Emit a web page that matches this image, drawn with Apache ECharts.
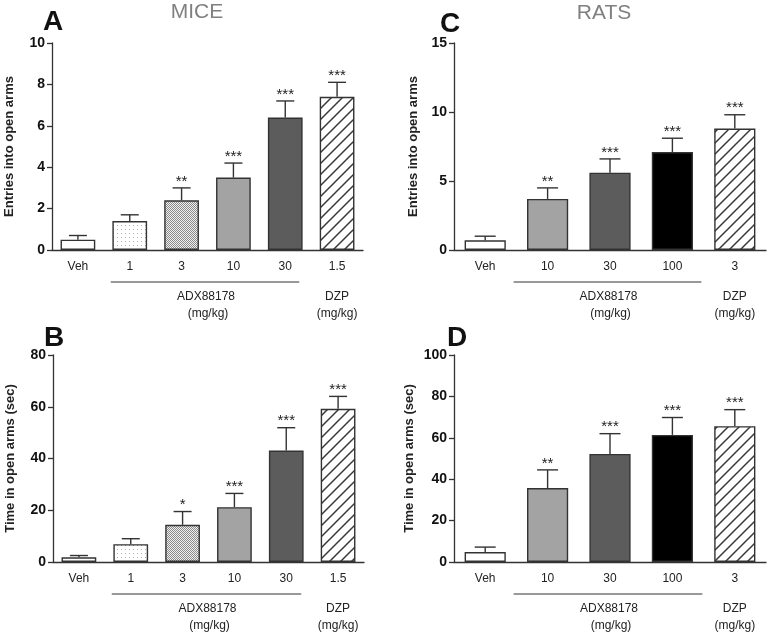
<!DOCTYPE html>
<html><head><meta charset="utf-8">
<script src="https://cdn.jsdelivr.net/npm/echarts/dist/echarts.min.js"></script>
<style>html,body{margin:0;padding:0;background:#fff}#c{width:768px;height:634px}</style>
</head><body><div id="c"></div>
<script>
// ---- data ----
const miceCats = ['Veh', '1', '3', '10', '30', '1.5'];
const miceEntries = [0.5, 1.4, 2.4, 3.5, 6.4, 7.4];
const miceEntriesErr = [0.2, 0.3, 0.6, 0.7, 0.8, 0.7];
const miceEntriesSig = ['', '', '**', '***', '***', '***'];
const miceTime = [1.8, 6.9, 14.4, 21.2, 43.1, 59.2];
const miceTimeErr = [0.7, 2.1, 5.1, 5.3, 8.8, 4.8];
const miceTimeSig = ['', '', '*', '***', '***', '***'];

const ratCats = ['Veh', '10', '30', '100', '3'];
const ratEntries = [0.7, 3.7, 5.6, 7.1, 8.8];
const ratEntriesErr = [0.3, 0.8, 1.0, 1.0, 1.0];
const ratEntriesSig = ['', '**', '***', '***', '***'];
const ratTime = [4.8, 35.7, 52.2, 61.4, 65.6];
const ratTimeErr = [2.4, 8.8, 9.8, 8.4, 8.0];
const ratTimeSig = ['', '**', '***', '***', '***'];

const panelLetters = ['A', 'B', 'C', 'D'];
const speciesTitles = ['MICE', 'RATS'];
const yNames = ['Entries into open arms', 'Time in open arms (sec)'];
const groupNames = ['ADX88178', 'DZP'];
const unitLabel = '(mg/kg)';

// ---- styles ----
const FONT = '"Liberation Sans", Arial, sans-serif';
function tile(kind) {
  const c = document.createElement('canvas');
  const g = c.getContext('2d');
  if (kind === 'dots') {
    c.width = 4; c.height = 4;
    g.fillStyle = '#fff'; g.fillRect(0, 0, 4, 4);
    g.fillStyle = '#b0b0b0'; g.fillRect(1, 1, 1, 1);
  } else if (kind === 'checker') {
    c.width = 2; c.height = 2;
    g.fillStyle = '#f0f0f0'; g.fillRect(0, 0, 2, 2);
    g.fillStyle = '#8a8a8a'; g.fillRect(0, 0, 1, 1); g.fillRect(1, 1, 1, 1);
  } else {
    const s = 11;
    c.width = s; c.height = s;
    g.fillStyle = '#fff'; g.fillRect(0, 0, s, s);
    g.strokeStyle = '#3a3a3a'; g.lineWidth = 1.5;
    g.beginPath();
    g.moveTo(-1, 1); g.lineTo(1, -1);
    g.moveTo(0, s); g.lineTo(s, 0);
    g.moveTo(s - 1, s + 1); g.lineTo(s + 1, s - 1);
    g.stroke();
  }
  return { image: c, repeat: 'repeat' };
}
const DOTS = tile('dots'), CHECK = tile('checker'), HATCH = tile('hatch');
const miceFills = ['#ffffff', DOTS, CHECK, '#a3a3a3', '#5c5c5c', HATCH];
const ratFills = ['#ffffff', '#a3a3a3', '#5c5c5c', '#000000', HATCH];

const panels = [
  { grid: { left: 52, top: 43, width: 311, height: 207 }, cats: miceCats, vals: miceEntries, errs: miceEntriesErr, sig: miceEntriesSig, fills: miceFills, max: 10, interval: 2, name: yNames[0], gap: 36, cap: 18, gl: 19, gr: 14, adx: [1, 4], dzp: 5, gapPct: '33%' },
  { grid: { left: 53, top: 355, width: 311, height: 207 }, cats: miceCats, vals: miceTime, errs: miceTimeErr, sig: miceTimeSig, fills: miceFills, max: 80, interval: 20, name: yNames[1], gap: 36, cap: 18, gl: 19, gr: 15, adx: [1, 4], dzp: 5, gapPct: '33%' },
  { grid: { left: 454, top: 43, width: 312, height: 207 }, cats: ratCats, vals: ratEntries, errs: ratEntriesErr, sig: ratEntriesSig, fills: ratFills, max: 15, interval: 5, name: yNames[0], gap: 34, cap: 21, gl: 34, gr: 29, adx: [1, 3], dzp: 4, gapPct: '34%' },
  { grid: { left: 454, top: 355, width: 312, height: 207 }, cats: ratCats, vals: ratTime, errs: ratTimeErr, sig: ratTimeSig, fills: ratFills, max: 100, interval: 20, name: yNames[1], gap: 38, cap: 21, gl: 34, gr: 30, adx: [1, 3], dzp: 4, gapPct: '34%' }
];

const AX = '#333';
const option = {
  animation: false,
  backgroundColor: '#fff',
  textStyle: { fontFamily: FONT },
  grid: panels.map(p => p.grid),
  xAxis: panels.map((p, i) => ({
    type: 'category', gridIndex: i, data: p.cats,
    axisLine: { lineStyle: { color: AX, width: 1.3 } },
    axisTick: { alignWithLabel: true, length: 5, lineStyle: { color: AX, width: 1.3 } },
    axisLabel: { color: '#222', fontSize: 12, margin: 11, fontFamily: FONT, interval: 0 }
  })),
  yAxis: panels.map((p, i) => ({
    type: 'value', gridIndex: i, min: 0, max: p.max, interval: p.interval,
    name: p.name, nameLocation: 'middle', nameGap: p.gap,
    nameTextStyle: { color: '#222', fontSize: 13, fontWeight: 'bold', fontFamily: FONT },
    axisLine: { show: true, lineStyle: { color: AX, width: 1.3 } },
    axisTick: { show: true, length: 5, lineStyle: { color: AX, width: 1.3 } },
    axisLabel: { color: '#111', fontSize: 14, fontWeight: 'bold', margin: 7, fontFamily: FONT },
    splitLine: { show: false }
  })),
  graphic: [
    { type: 'text', left: 43, top: 8, style: { text: panelLetters[0], font: 'bold 28px ' + FONT, fill: '#111' } },
    { type: 'text', left: 44, top: 324, style: { text: panelLetters[1], font: 'bold 28px ' + FONT, fill: '#111' } },
    { type: 'text', left: 440, top: 10, style: { text: panelLetters[2], font: 'bold 28px ' + FONT, fill: '#111' } },
    { type: 'text', left: 447, top: 324, style: { text: panelLetters[3], font: 'bold 28px ' + FONT, fill: '#111' } },
    { type: 'text', x: 197, y: 12, style: { text: speciesTitles[0], font: '21px ' + FONT, fill: '#808080', align: 'center', verticalAlign: 'middle' } },
    { type: 'text', x: 604, y: 13, style: { text: speciesTitles[1], font: '21px ' + FONT, fill: '#808080', align: 'center', verticalAlign: 'middle' } }
  ],
  series: []
};

panels.forEach((p, i) => {
  option.series.push({
    type: 'bar', xAxisIndex: i, yAxisIndex: i, barCategoryGap: p.gapPct,
    data: p.vals.map((v, k) => ({ value: v, itemStyle: { color: p.fills[k] } })),
    itemStyle: { borderColor: '#333', borderWidth: 1.4 },
    z: 2
  });
  option.series.push({
    type: 'custom', xAxisIndex: i, yAxisIndex: i, z: 3, clip: false,
    data: p.vals.map((v, k) => [k, v, p.errs[k]]),
    renderItem: (params, api) => {
      const k = api.value(0), v = api.value(1), e = api.value(2);
      const a = api.coord([k, v]), b = api.coord([k, v + e]);
      const s = p.sig[params.dataIndex];
      const st = { stroke: '#333', lineWidth: 1.4 };
      const ch = [
        { type: 'line', shape: { x1: a[0], y1: a[1], x2: b[0], y2: b[1] }, style: st },
        { type: 'line', shape: { x1: b[0] - p.cap / 2, y1: b[1], x2: b[0] + p.cap / 2, y2: b[1] }, style: st }
      ];
      if (s) ch.push({ type: 'text', x: b[0], y: b[1] + 1, style: { text: s, fill: '#222', font: '15px ' + FONT, align: 'center', verticalAlign: 'bottom' } });
      return { type: 'group', children: ch };
    }
  });
  option.series.push({
    type: 'custom', xAxisIndex: i, yAxisIndex: i, z: 3, clip: false, silent: true,
    data: [[0, 0]],
    renderItem: (params, api) => {
      const y0 = api.coord([0, 0])[1];
      const xa = api.coord([p.adx[0], 0])[0] - p.gl;
      const xb = api.coord([p.adx[1], 0])[0] + p.gr;
      const xd = api.coord([p.dzp, 0])[0];
      const xm = (xa + xb) / 2;
      const tf = '12px ' + FONT;
      const t = (txt, x, y) => ({ type: 'text', x: x, y: y, style: { text: txt, fill: '#222', font: tf, align: 'center', verticalAlign: 'middle' } });
      return {
        type: 'group', children: [
          { type: 'line', shape: { x1: xa, y1: y0 + 32, x2: xb, y2: y0 + 32 }, style: { stroke: '#333', lineWidth: 1 } },
          t(groupNames[0], xm + 1, y0 + 47),
          t(unitLabel, xm + 3, y0 + 64),
          t(groupNames[1], xd, y0 + 47),
          t(unitLabel, xd, y0 + 64)
        ]
      };
    }
  });
});

const chart = echarts.init(document.getElementById('c'), null, { renderer: 'canvas' });
chart.setOption(option);
</script></body></html>
